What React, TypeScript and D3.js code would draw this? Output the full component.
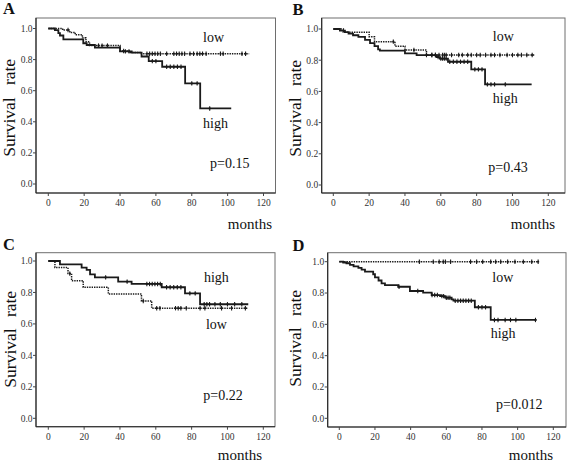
import React from "react";
import * as d3 from "d3";

// ---------- data ----------
const X_TICKS = [0, 20, 40, 60, 80, 100, 120];
const Y_TICKS = [0, 0.2, 0.4, 0.6, 0.8, 1.0];

// Panel A
const A_HIGH_T = [0, 3.7, 5.6, 6.5, 8.4, 19.5, 21.4, 26, 40, 46.5, 52, 56, 63.5, 76.3, 84.7];
const A_HIGH_S = [1, 0.99, 0.97, 0.955, 0.93, 0.905, 0.894, 0.877, 0.853, 0.845, 0.82, 0.79, 0.754, 0.647, 0.486];
const A_HIGH_END = 102;
const A_HIGH_CENS = [43, 45, 58, 60, 66, 68, 70, 72, 74, 80, 83, 90];
const A_LOW_T = [0, 8, 12, 15, 19, 21, 23, 40, 45, 52];
const A_LOW_S = [1, 0.99, 0.975, 0.96, 0.94, 0.915, 0.89, 0.855, 0.845, 0.838];
const A_LOW_END = 112;
const A_LOW_CENS = [11, 28, 30, 33, 42, 55, 56.5, 58, 59.5, 61, 62.5, 66, 70, 71.5, 73, 74.5, 76, 79, 81, 83, 84.5, 86, 88, 96, 97.5, 108, 110];

// Panel B
const B_HIGH_T = [0, 3.7, 6.5, 8.5, 11, 14, 17.7, 20.5, 23, 25, 26, 40, 46.5, 57.7, 59.5, 64, 77, 84.7];
const B_HIGH_S = [1, 0.99, 0.98, 0.97, 0.96, 0.95, 0.93, 0.91, 0.89, 0.87, 0.861, 0.844, 0.833, 0.82, 0.81, 0.79, 0.741, 0.645];
const B_HIGH_END = 110.7;
const B_HIGH_CENS = [52, 55, 57, 58.5, 60, 61, 62, 63, 65, 67, 69, 71, 73, 75, 79, 81, 83, 86, 88, 90, 96];
const B_LOW_T = [0, 5.6, 20, 23, 34.4, 40, 52];
const B_LOW_S = [1, 0.979, 0.95, 0.919, 0.89, 0.865, 0.833];
const B_LOW_END = 112.6;
const B_LOW_CENS = [33.5, 45, 55, 57, 59, 61, 62, 63, 66, 70, 72, 75, 77, 80, 82, 85, 88, 90, 93, 97, 100, 103, 105, 108, 111];

// Panel C
const C_HIGH_T = [0, 6.5, 18.6, 21.4, 23.3, 26, 39, 46.5, 63.3, 76.3, 84.7];
const C_HIGH_S = [1, 0.979, 0.958, 0.943, 0.915, 0.896, 0.869, 0.854, 0.833, 0.794, 0.725];
const C_HIGH_END = 111.6;
const C_HIGH_CENS = [32, 44, 55, 56.5, 58, 59.5, 61, 62.5, 66, 68, 70, 72, 74, 79, 82, 87, 88.5, 90, 93, 96, 100, 104, 108];
const C_LOW_T = [0, 3.7, 11, 13, 19.5, 33.5, 52, 57.7];
const C_LOW_S = [1, 0.958, 0.92, 0.875, 0.833, 0.79, 0.746, 0.7];
const C_LOW_END = 111.6;
const C_LOW_CENS = [12, 53, 60.5, 62.3, 71, 72.5, 74, 77, 84.7, 87.4, 96.7, 102.3, 110];

// Panel D
const D_HIGH_T = [0, 2.2, 4, 6, 8, 10.7, 12.5, 14.4, 19, 20, 22, 23.7, 25.6, 33, 39.6, 47, 51.8, 56.5, 59.3, 63, 64, 76, 84.9];
const D_HIGH_S = [1, 0.995, 0.99, 0.98, 0.97, 0.96, 0.95, 0.936, 0.92, 0.9, 0.88, 0.862, 0.851, 0.84, 0.813, 0.802, 0.787, 0.78, 0.77, 0.76, 0.751, 0.709, 0.628];
const D_HIGH_END = 110.6;
const D_HIGH_CENS = [33.5, 44, 52, 53.5, 55, 57.5, 58.5, 60, 61, 62, 65, 66.5, 68, 69.5, 71, 72.5, 74, 78, 80, 82, 87, 89, 93, 96, 99, 110];
const D_LOW_T = [0];
const D_LOW_S = [1];
const D_LOW_END = 111.6;
const D_LOW_CENS = [44.9, 52.7, 56, 58.3, 59.5, 62.4, 73.6, 77, 80.4, 84.9, 87.7, 90.5, 94.4, 98.5, 103.2, 107.9, 111.5];

const PANEL_LETTERS = ["A", "B", "C", "D"];
const P_VALUES = ["p=0.15", "p=0.43", "p=0.22", "p=0.012"];
const LOW_LABEL = "low";
const HIGH_LABEL = "high";
const Y_TITLE_1 = "Survival";
const Y_TITLE_2 = "rate";
const X_TITLE = "months";

// ---------- layout ----------
type Series = { t: number[]; s: number[]; end: number; cens: number[] };
type Panel = {
  letter: string;
  p: string;
  high: Series;
  low: Series;
  box: [number, number, number, number]; // x0,y0,x1,y1
  xr: [number, number];
  yr: [number, number];
  letterPos: [number, number];
  yTitleX: number;
  yTitle1Y: number;
  yTitle2Y: number;
  monthsPos: [number, number];
  lowPos: [number, number];
  highPos: [number, number];
  pPos: [number, number];
};

const PANELS: Panel[] = [
  {
    letter: PANEL_LETTERS[0], p: P_VALUES[0],
    high: { t: A_HIGH_T, s: A_HIGH_S, end: A_HIGH_END, cens: A_HIGH_CENS },
    low: { t: A_LOW_T, s: A_LOW_S, end: A_LOW_END, cens: A_LOW_CENS },
    box: [36, 18, 275.5, 193], xr: [48.3, 263.5], yr: [184, 28.5],
    letterPos: [3, 14], yTitleX: 15, yTitle1Y: 127, yTitle2Y: 72,
    monthsPos: [272, 229], lowPos: [86.3, 0.913], highPos: [86.3, 0.36], pPos: [90.2, 0.103],
  },
  {
    letter: PANEL_LETTERS[1], p: P_VALUES[1],
    high: { t: B_HIGH_T, s: B_HIGH_S, end: B_HIGH_END, cens: B_HIGH_CENS },
    low: { t: B_LOW_T, s: B_LOW_S, end: B_LOW_END, cens: B_LOW_CENS },
    box: [321.7, 18, 565, 193], xr: [333.3, 548.3], yr: [185, 29],
    letterPos: [292.5, 14.5], yTitleX: 301, yTitle1Y: 127, yTitle2Y: 73,
    monthsPos: [555, 229], lowPos: [89, 0.925], highPos: [89, 0.524], pPos: [86.5, 0.085],
  },
  {
    letter: PANEL_LETTERS[2], p: P_VALUES[2],
    high: { t: C_HIGH_T, s: C_HIGH_S, end: C_HIGH_END, cens: C_HIGH_CENS },
    low: { t: C_LOW_T, s: C_LOW_S, end: C_LOW_END, cens: C_LOW_CENS },
    box: [36, 252.7, 275, 426.7], xr: [48.3, 263.3], yr: [418.3, 261],
    letterPos: [3, 250], yTitleX: 15.5, yTitle1Y: 358, yTitle2Y: 304,
    monthsPos: [262, 460], lowPos: [88, 0.566], highPos: [86.9, 0.868], pPos: [86.5, 0.116],
  },
  {
    letter: PANEL_LETTERS[3], p: P_VALUES[3],
    high: { t: D_HIGH_T, s: D_HIGH_S, end: D_HIGH_END, cens: D_HIGH_CENS },
    low: { t: D_LOW_T, s: D_LOW_S, end: D_LOW_END, cens: D_LOW_CENS },
    box: [327.7, 252.7, 566, 427], xr: [339.3, 553.3], yr: [418.3, 261.7],
    letterPos: [292.5, 251], yTitleX: 301, yTitle1Y: 357, yTitle2Y: 303,
    monthsPos: [553, 460], lowPos: [85.8, 0.868], highPos: [84.9, 0.511], pPos: [87.9, 0.057],
  },
];

const FONT = "'Liberation Serif', 'Times New Roman', serif";

function survAt(series: Series, t: number): number {
  let v = series.s[0];
  for (let i = 0; i < series.t.length; i++) {
    if (series.t[i] <= t) v = series.s[i];
  }
  return v;
}

function KMCurve({ series, x, y, dashed }: { series: Series; x: d3.ScaleLinear<number, number>; y: d3.ScaleLinear<number, number>; dashed: boolean }) {
  const pts: [number, number][] = series.t.map((t, i) => [t, series.s[i]]);
  pts.push([series.end, series.s[series.s.length - 1]]);
  const line = d3
    .line<[number, number]>()
    .x((d) => x(d[0]))
    .y((d) => y(d[1]))
    .curve(d3.curveStepAfter);
  const col = "#1a1a1a";
  return (
    <g>
      <path
        d={line(pts) || ""}
        fill="none"
        stroke={col}
        strokeWidth={dashed ? 1.5 : 1.8}
        strokeDasharray={dashed ? "1.4,1" : undefined}
      />
      {series.cens.map((c, i) => {
        const cx = x(c);
        const cy = y(survAt(series, c));
        return (
          <g key={i}>
            <line x1={cx} x2={cx} y1={cy - 2.2} y2={cy + 2.2} stroke={col} strokeWidth={1.1} />
            <line x1={cx - 1} x2={cx + 1} y1={cy} y2={cy} stroke={col} strokeWidth={1.6} />
          </g>
        );
      })}
    </g>
  );
}

function PanelView({ p }: { p: Panel }) {
  const x = d3.scaleLinear().domain([0, 120]).range(p.xr);
  const y = d3.scaleLinear().domain([0, 1]).range(p.yr);
  const [bx0, by0, bx1, by1] = p.box;
  const fmt = d3.format(".1f");
  return (
    <g fontFamily={FONT}>
      <rect x={bx0} y={by0} width={bx1 - bx0} height={by1 - by0} fill="#fff" stroke="#6e6e6e" strokeWidth={1} />
      <line x1={bx0} x2={bx0} y1={by0} y2={by1} stroke="#222" strokeWidth={1.1} />
      <line x1={bx0} x2={bx1} y1={by1} y2={by1} stroke="#222" strokeWidth={1.1} />
      {Y_TICKS.map((v) => (
        <g key={"y" + v}>
          <line x1={bx0 - 3} x2={bx0} y1={y(v)} y2={y(v)} stroke="#444" strokeWidth={1} />
          <text x={bx0 - 3.5} y={y(v) + 3.3} fontSize={9.5} textAnchor="end" fill="#333">
            {fmt(v)}
          </text>
        </g>
      ))}
      {X_TICKS.map((v) => (
        <g key={"x" + v}>
          <line x1={x(v)} x2={x(v)} y1={by1} y2={by1 + 3} stroke="#444" strokeWidth={1} />
          <text x={x(v)} y={by1 + 13} fontSize={9.5} textAnchor="middle" fill="#333">
            {v}
          </text>
        </g>
      ))}
      <KMCurve series={p.low} x={x} y={y} dashed={true} />
      <KMCurve series={p.high} x={x} y={y} dashed={false} />
      <text x={x(p.lowPos[0])} y={y(p.lowPos[1])} fontSize={14} fill="#111">{LOW_LABEL}</text>
      <text x={x(p.highPos[0])} y={y(p.highPos[1])} fontSize={14} fill="#111">{HIGH_LABEL}</text>
      <text x={x(p.pPos[0])} y={y(p.pPos[1])} fontSize={14} fill="#111">{p.p}</text>
      <text x={p.letterPos[0]} y={p.letterPos[1]} fontSize={16.5} fontWeight="bold" fill="#111">{p.letter}</text>
      <text transform={`translate(${p.yTitleX},${p.yTitle1Y}) rotate(-90)`} fontSize={17.5} textAnchor="middle" fill="#111">
        {Y_TITLE_1}
      </text>
      <text transform={`translate(${p.yTitleX},${p.yTitle2Y}) rotate(-90)`} fontSize={17.5} textAnchor="middle" fill="#111">
        {Y_TITLE_2}
      </text>
      <text x={p.monthsPos[0]} y={p.monthsPos[1]} fontSize={15} textAnchor="end" fill="#111">{X_TITLE}</text>
    </g>
  );
}

export default function App() {
  return (
    <svg
      width={567}
      height={462}
      viewBox="0 0 567 462"
      style={{ position: "absolute", left: 0, top: 0, background: "#fff" }}
    >
      <rect x={0} y={0} width={567} height={462} fill="#fff" />
      {PANELS.map((p, i) => (
        <PanelView key={i} p={p} />
      ))}
    </svg>
  );
}
